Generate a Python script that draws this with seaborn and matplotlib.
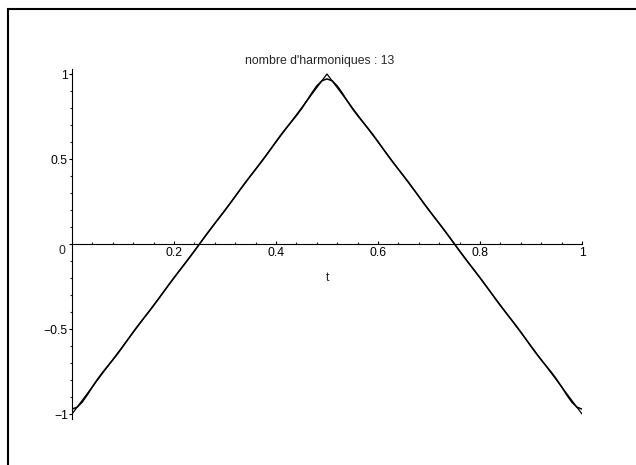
import numpy as np
import matplotlib
matplotlib.use("Agg")
import matplotlib.pyplot as plt
from matplotlib.patches import Rectangle
from matplotlib.ticker import FixedLocator
import seaborn as sns

# Partial Fourier sum (13 harmonics) of the triangle wave, sampled every 0.01 in t
t_samples = np.linspace(0.0, 1.0, 101)
approx_values = [
    -0.9711, -0.9601, -0.9299, -0.8873, -0.8403, -0.7954, -0.7551, -0.7183,
    -0.6820, -0.6436, -0.6024, -0.5597, -0.5176, -0.4774, -0.4391, -0.4013,
    -0.3624, -0.3217, -0.2799, -0.2382, -0.1979, -0.1592, -0.1210, -0.0820,
    -0.0416, 0.0, 0.0416, 0.0820, 0.1210, 0.1592, 0.1979, 0.2382, 0.2799,
    0.3217, 0.3624, 0.4013, 0.4391, 0.4774, 0.5176, 0.5597, 0.6024, 0.6436,
    0.6820, 0.7183, 0.7551, 0.7954, 0.8403, 0.8873, 0.9299, 0.9601, 0.9711,
    0.9601, 0.9299, 0.8873, 0.8403, 0.7954, 0.7551, 0.7183, 0.6820, 0.6436,
    0.6024, 0.5597, 0.5176, 0.4774, 0.4391, 0.4013, 0.3624, 0.3217, 0.2799,
    0.2382, 0.1979, 0.1592, 0.1210, 0.0820, 0.0416, 0.0, -0.0416, -0.0820,
    -0.1210, -0.1592, -0.1979, -0.2382, -0.2799, -0.3217, -0.3624, -0.4013,
    -0.4391, -0.4774, -0.5176, -0.5597, -0.6024, -0.6436, -0.6820, -0.7183,
    -0.7551, -0.7954, -0.8403, -0.8873, -0.9299, -0.9601, -0.9711,
]

# Exact triangle wave over one period
triangle_t = [0.0, 0.5, 1.0]
triangle_y = [-1.0, 1.0, -1.0]

x_major = [0.2, 0.4, 0.6, 0.8, 1.0]
x_major_labels = ["0.2", "0.4", "0.6", "0.8", "1"]
x_minor = [0.04, 0.08, 0.12, 0.16, 0.24, 0.28, 0.32, 0.36, 0.44, 0.48, 0.52,
           0.56, 0.64, 0.68, 0.72, 0.76, 0.84, 0.88, 0.92, 0.96]
y_major = [-1.0, -0.5, 0.0, 0.5, 1.0]
y_major_labels = ["\u22121", "\u22120.5", "", "0.5", "1"]
y_minor = [-0.9, -0.8, -0.7, -0.6, -0.4, -0.3, -0.2, -0.1,
           0.1, 0.2, 0.3, 0.4, 0.6, 0.7, 0.8, 0.9]

title_text = "nombre d'harmoniques : 13"
x_label = "t"

sns.set_style("white")
plt.rcParams["font.family"] = ["Liberation Sans", "DejaVu Sans"]
FS = 8.8

W, H = 636, 465
fig = plt.figure(figsize=(W / 100, H / 100), dpi=100)
fig.patch.set_facecolor("white")


def fx(px):
    return px / W


def fy(py):
    return 1 - py / H


ax = fig.add_axes([fx(72), fy(419.1), fx(582) - fx(72), fy(68.9) - fy(419.1)])
ax.set_facecolor("white")

sns.lineplot(x=triangle_t, y=triangle_y, ax=ax, color="black", linewidth=0.9,
             sort=False, legend=False)
sns.lineplot(x=t_samples, y=approx_values, ax=ax, color="black", linewidth=1.1,
             sort=False, legend=False)

ax.set_xlim(0, 1)
ax.set_ylim(-1.03, 1.03)

for side in ("top", "right"):
    ax.spines[side].set_visible(False)
ax.spines["bottom"].set_position(("data", 0))
ax.spines["left"].set_position(("data", 0))
for side in ("bottom", "left"):
    ax.spines[side].set_linewidth(0.8)
    ax.spines[side].set_color("black")

ax.xaxis.set_major_locator(FixedLocator(x_major))
ax.xaxis.set_minor_locator(FixedLocator(x_minor))
ax.set_xticklabels(x_major_labels)
ax.yaxis.set_major_locator(FixedLocator(y_major))
ax.yaxis.set_minor_locator(FixedLocator(y_minor))
ax.set_yticklabels(y_major_labels)

ax.tick_params(axis="x", which="major", direction="in", length=2.4, width=0.8,
               pad=2.5, labelsize=FS, colors="black")
ax.tick_params(axis="x", which="minor", direction="in", length=1.5, width=0.8)
ax.tick_params(axis="y", which="major", direction="out", length=2.4, width=0.8,
               pad=0.6, labelsize=FS, colors="black")
ax.tick_params(axis="y", which="minor", direction="out", length=1.5, width=0.8)
ax.xaxis.set_ticks_position("bottom")
ax.yaxis.set_ticks_position("left")
ax.set_xlabel("")
ax.set_ylabel("")

# zero label of the vertical axis, nudged below the horizontal axis
ax.annotate("0", xy=(0, 0), xytext=(-7, -7), textcoords="offset pixels",
            ha="right", va="center", fontsize=FS)

fig.text(fx(328), fy(278), x_label, ha="center", va="center", fontsize=FS)
fig.text(fx(319.5), fy(61), title_text, ha="center", va="center", fontsize=FS)

# outer frame
fig.add_artist(Rectangle((fx(8), -0.2), 1.5, fy(9) + 0.2, transform=fig.transFigure,
                         fill=False, edgecolor="black", linewidth=1.5))

fig.savefig("out.png", dpi=100, facecolor="white")
